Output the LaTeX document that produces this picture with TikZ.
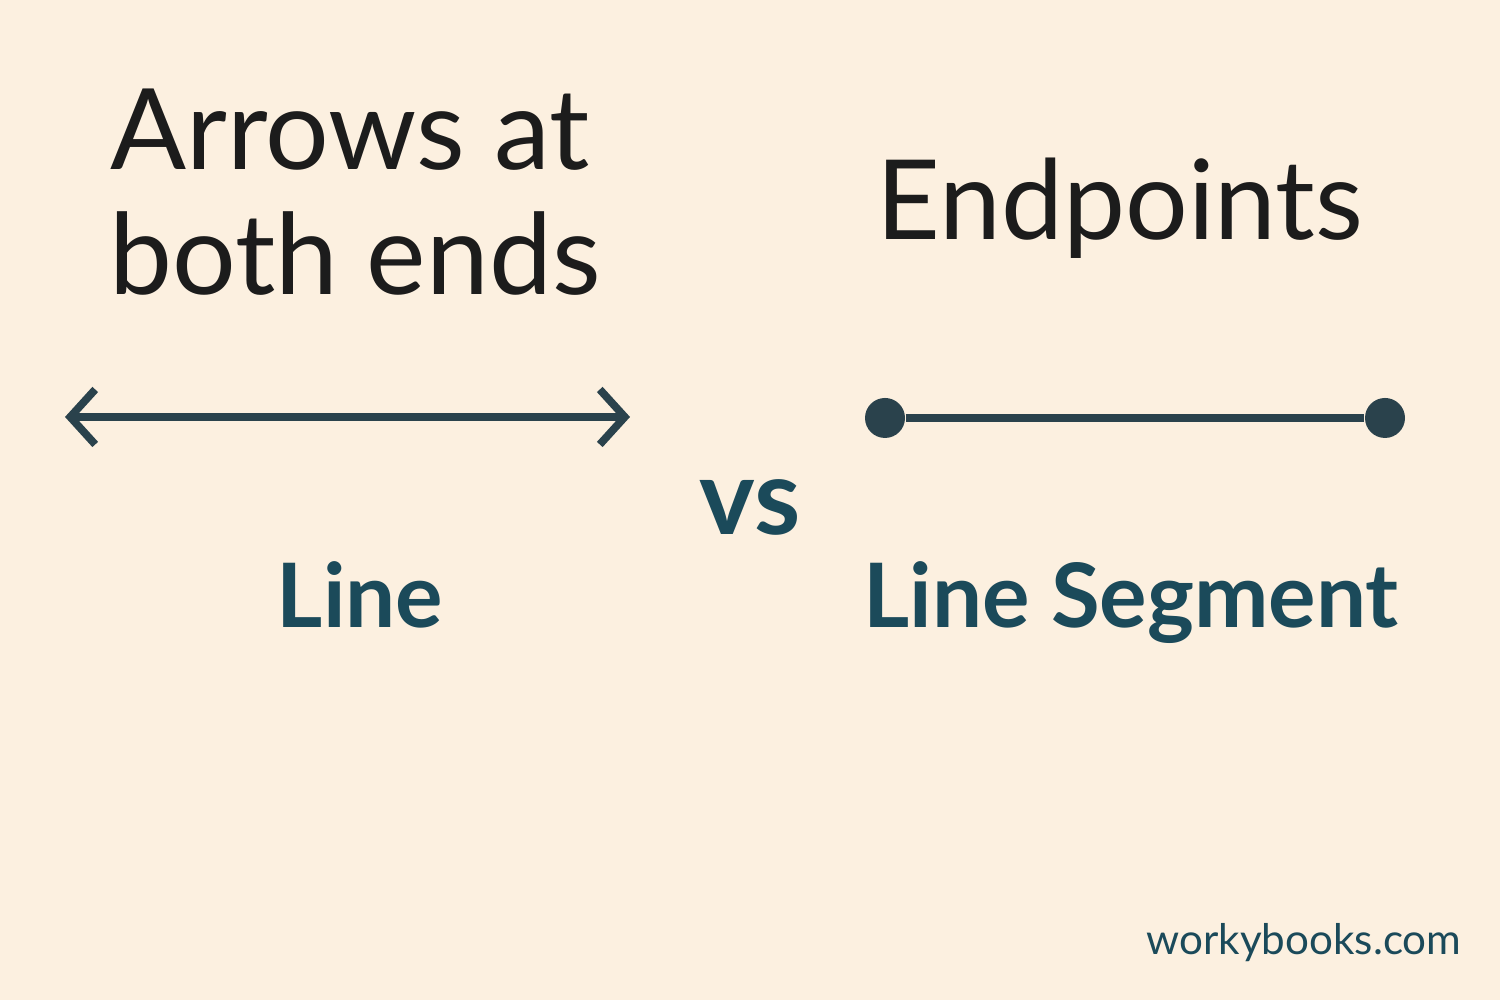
\documentclass[tikz,border=0pt]{standalone}
\usepackage{fontspec}
\setmainfont{Lato}
\usetikzlibrary{arrows.meta}
\definecolor{bg}{HTML}{FCF0E0}
\definecolor{ink}{HTML}{1C1C1C}
\definecolor{teal}{HTML}{1B4A5A}
\definecolor{lin}{HTML}{2A424C}
\tikzset{toplabel/.style={text=ink,font=\fontsize{32}{34}\selectfont,inner sep=0pt,align=center},
 sublabel/.style={text=teal,font=\fontsize{25.3}{28}\selectfont\bfseries,inner sep=0pt},
 dot/.style={circle,fill=lin,minimum size=0.4cm,inner sep=0pt}}
\begin{document}
\begin{tikzpicture}
\fill[bg] (0,0) rectangle (15,10);
\useasboundingbox (0,0) rectangle (15,10);
\node[toplabel,anchor=base] (t1) at (3.5,8.3) {Arrows at};
\node[toplabel,anchor=base] (t2) at (3.55,7.05) {both ends};
\node[text=ink,font=\fontsize{31.5}{34}\selectfont,inner sep=0pt,anchor=base] (t3) at (11.2,7.6) {Endpoints};
\coordinate (a) at (0.65,5.83);
\coordinate (b) at (6.3,5.83);
\draw[lin,line width=2.2pt,{Straight Barb[length=0.25cm,width=0.55cm,line width=2.2pt]}-{Straight Barb[length=0.25cm,width=0.55cm,line width=2.2pt]}] (a) -- (b);
\node[dot] (p) at (8.85,5.82) {};
\node[dot] (q) at (13.85,5.82) {};
\draw[lin,line width=2.2pt] (p) -- (q);
\node[sublabel,anchor=base] (l1) at (3.6,3.72) {Line};
\node[sublabel,anchor=base] (l2) at (11.31,3.72) {Line Segment};
\node[text=teal,font=\fontsize{30}{32}\selectfont\bfseries,inner sep=0pt,anchor=base] (vs) at (7.5,4.65) {vs};
\node[text=teal,font=\fontsize{12}{14}\selectfont,inner sep=0pt,anchor=base] (w) at (13.04,0.45) {workybooks.com};
\end{tikzpicture}
\end{document}
